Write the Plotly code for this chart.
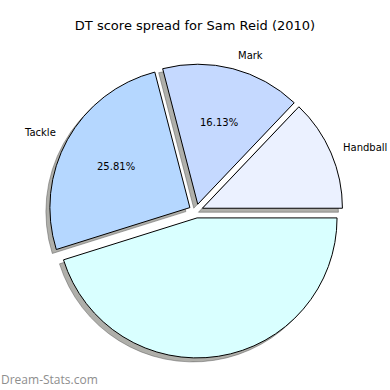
import math
import plotly.graph_objects as go

labels = ["Handball", "Mark", "Tackle", "Kick"]
values = [4, 5, 8, 14]
label_text = ["Handball", "Mark", "Tackle", ""]
pct_text = ["", "16.13%", "25.81%", ""]
colors = ["#EBF1FF", "#C5D9FF", "#B5D7FF", "#D9FFFF"]
pulls = [0.05, 0.05, 0.05, 0.05]

W = H = 390
total = sum(values)
rot = 90 - 360 * values[0] / total

dx = [49 / W, 343 / W]
dy = [32 / H, 326 / H]
sh = 4 / W

# pie geometry in paper coords (no outside text -> no rescaling)
cx = (dx[0] + dx[1]) / 2
cy = (dy[0] + dy[1]) / 2
r_px = min((dx[1] - dx[0]) * W, (dy[1] - dy[0]) * H) / 2 / (1 + max(pulls))

fig = go.Figure()
# shadow
fig.add_trace(go.Pie(
    labels=labels, values=values, sort=False, direction="counterclockwise",
    rotation=rot, pull=pulls, textinfo="none", hoverinfo="skip",
    marker=dict(colors=["rgba(110,110,100,0.55)"] * 4,
                line=dict(color="rgba(60,60,60,0.4)", width=1)),
    domain=dict(x=[dx[0] - sh, dx[1] - sh], y=[dy[0] - sh, dy[1] - sh]),
    showlegend=False,
))
# main
fig.add_trace(go.Pie(
    labels=labels, values=values, sort=False, direction="counterclockwise",
    rotation=rot, pull=pulls, textinfo="none",
    marker=dict(colors=colors, line=dict(color="black", width=1)),
    domain=dict(x=dx, y=dy), showlegend=False,
))

annotations = []
start = 0.0
for lab, pct, v, p in zip(label_text, pct_text, values, pulls):
    theta = math.radians(start + 180 * v / total)
    start += 360 * v / total
    ox = p * r_px * math.cos(theta)
    oy = p * r_px * math.sin(theta)
    if lab:
        annotations.append(dict(
            text=lab, showarrow=False, xref="paper", yref="paper",
            x=cx + (ox + 1.08 * r_px * math.cos(theta)) / W,
            y=cy + (oy + 1.1 * r_px * math.sin(theta)) / H,
            xanchor="left" if math.cos(theta) >= 0 else "right", yanchor="middle",
            font=dict(size=10, color="black", family="DejaVu Sans")))
    if pct:
        annotations.append(dict(
            text=pct, showarrow=False, xref="paper", yref="paper",
            x=cx + (ox + 0.6 * r_px * math.cos(theta)) / W,
            y=cy + (oy + 0.6 * r_px * math.sin(theta)) / H,
            xanchor="center", yanchor="middle",
            font=dict(size=10, color="black", family="DejaVu Sans")))

annotations.append(dict(text="Dream-Stats.com", x=0, y=11 / H, xref="paper", yref="paper",
                        xanchor="left", yanchor="middle", showarrow=False, borderpad=0,
                        font=dict(size=12, color="#8e8e8e", family="Open Sans")))

fig.update_layout(
    width=W, height=H, margin=dict(l=0, r=0, t=0, b=0),
    paper_bgcolor="white", plot_bgcolor="white",
    title=dict(text="DT score spread for Sam Reid (2010)", x=0.5, xanchor="center",
               y=1 - 25 / H, yanchor="middle", yref="container",
               font=dict(size=13, color="black", family="DejaVu Sans")),
    annotations=annotations,
)
fig.write_html("out.html", config={"displayModeBar": False},
               post_script="document.body.style.margin='0';")
